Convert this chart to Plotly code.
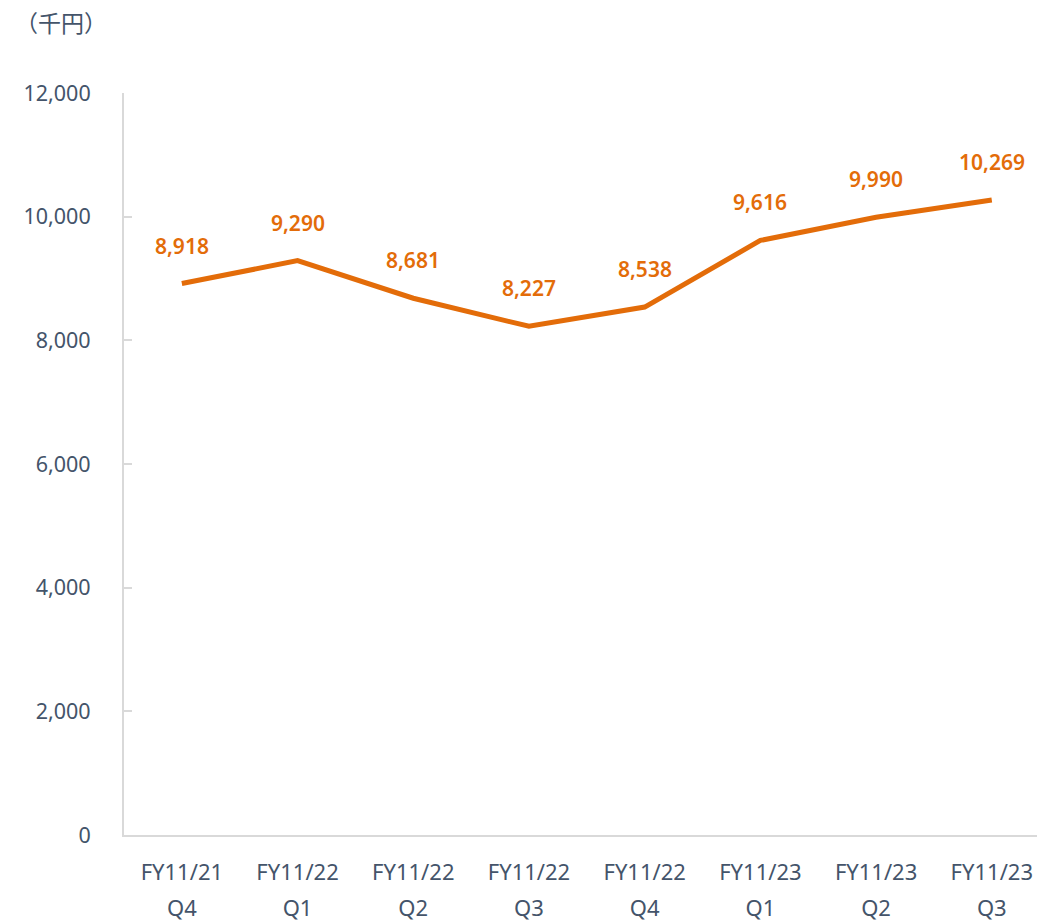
import plotly.graph_objects as go

fy_labels = ["FY11/21", "FY11/22", "FY11/22", "FY11/22", "FY11/22", "FY11/23", "FY11/23", "FY11/23"]
q_labels = ["Q4", "Q1", "Q2", "Q3", "Q4", "Q1", "Q2", "Q3"]
values = [8918, 9290, 8681, 8227, 8538, 9616, 9990, 10269]
y_ticks = [0, 2000, 4000, 6000, 8000, 10000, 12000]

orange = "#E36C09"
txt = "#44546A"
grid = "#D9D9D9"
font_family = "Noto Sans, Noto Sans CJK JP, sans-serif"

idx = list(range(len(values)))

fig = go.Figure()
fig.add_trace(go.Scatter(
    x=idx, y=values, mode="lines",
    line=dict(color=orange, width=5),
    hoverinfo="skip", showlegend=False,
))
fig.add_trace(go.Scatter(
    x=idx, y=values, mode="lines", xaxis="x2",
    line=dict(color="rgba(0,0,0,0)", width=0),
    hoverinfo="skip", showlegend=False,
))

for i, v in zip(idx, values):
    fig.add_annotation(
        x=i, y=v, xref="x", yref="y", text=f"{v:,}",
        showarrow=False, yshift=38,
        font=dict(family=font_family, size=21, color=orange, weight=600),
    )

W, H = 1037, 916
L, T, B, R = 116, 85, 89, 0
PW = W - L - R
PH = H - T - B

fig.add_annotation(
    x=-(L - 5) / PW, y=1 + (T - 14) / PH, xref="paper", yref="paper",
    text="（千円）", showarrow=False, xanchor="left", yanchor="middle",
    font=dict(family="Noto Sans CJK JP, sans-serif", size=23, color=txt),
)

xrange = [-0.5, 7.46]
fig.update_layout(
    width=W, height=H,
    margin=dict(l=L, r=R, t=T, b=B, autoexpand=False),
    paper_bgcolor="white", plot_bgcolor="white",
    font=dict(family=font_family, color=txt, size=21),
    xaxis=dict(
        range=xrange, tickmode="array", tickvals=idx, ticktext=fy_labels,
        showgrid=False, zeroline=False, showline=True, linecolor=grid, linewidth=2,
        ticks="", ticklabelstandoff=17, automargin=False,
        tickfont=dict(family=font_family, size=22, color=txt),
    ),
    xaxis2=dict(
        overlaying="x", side="bottom", anchor="y",
        range=xrange, tickmode="array", tickvals=idx, ticktext=q_labels,
        showgrid=False, zeroline=False, showline=False,
        ticks="", ticklabelstandoff=58, automargin=False,
        tickfont=dict(family=font_family, size=22, color=txt),
    ),
    yaxis=dict(
        range=[0, 12000], tickmode="array", tickvals=y_ticks,
        ticktext=[f"{t:,}" for t in y_ticks],
        showgrid=False, zeroline=False, showline=True, linecolor=grid, linewidth=2,
        ticks="inside", ticklen=8, tickcolor=grid, tickwidth=2,
        ticklabelstandoff=27, automargin=False,
        tickfont=dict(family=font_family, size=21.5, color=txt),
    ),
)

fig.write_html("out.html")
